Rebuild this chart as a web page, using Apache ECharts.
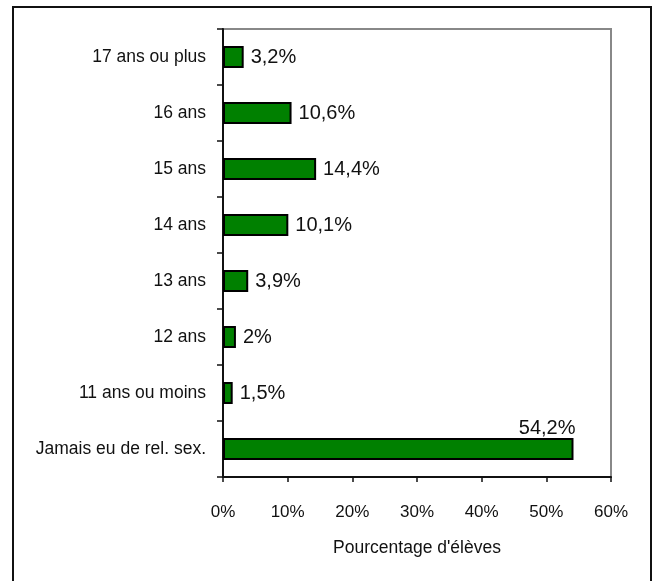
<!DOCTYPE html>
<html>
<head>
<meta charset="utf-8">
<script src="https://cdn.jsdelivr.net/npm/echarts@6/dist/echarts.min.js"></script>
<style>
html,body{margin:0;padding:0;background:#fff;}
#c{width:652px;height:581px;}
</style>
</head>
<body>
<div id="c"></div>
<script>
const categories = ["17 ans ou plus","16 ans","15 ans","14 ans","13 ans","12 ans","11 ans ou moins","Jamais eu de rel. sex."];
const values = [3.2, 10.6, 14.4, 10.1, 3.9, 2, 1.5, 54.2];
const xTicks = {min: 0, max: 60, interval: 10};
const axisTitle = "Pourcentage d'élèves";

const FONT = "'Liberation Sans', Arial, sans-serif";
const fmt = v => String(v).replace('.', ',') + '%';

const data = values.map((v, i) => {
  const d = {value: v};
  if (i === values.length - 1) {
    d.label = {position: 'right', align: 'right', verticalAlign: 'bottom', distance: 0, offset: [2, -11]};
  }
  return d;
});

const chart = echarts.init(document.getElementById('c'), null, {renderer: 'canvas'});
chart.setOption({
  animation: false,
  backgroundColor: '#fff',
  textStyle: {fontFamily: FONT},
  grid: {left: 223, top: 29, right: 41, bottom: 104, show: true, borderColor: '#888', borderWidth: 2, containLabel: false},
  xAxis: {
    type: 'value', min: xTicks.min, max: xTicks.max, interval: xTicks.interval,
    axisLine: {show: true, onZero: false, lineStyle: {color: '#111', width: 2}},
    axisTick: {show: true, length: 5, lineStyle: {color: '#111', width: 1.5}},
    splitLine: {show: false},
    axisLabel: {formatter: '{value}%', color: '#111', fontSize: 17, fontFamily: FONT, margin: 27},
    name: axisTitle, nameLocation: 'middle', nameGap: 62,
    nameTextStyle: {color: '#111', fontSize: 17.5, fontFamily: FONT}
  },
  yAxis: {
    type: 'category', data: categories, inverse: true,
    axisLine: {show: true, lineStyle: {color: '#111', width: 2}},
    axisTick: {show: true, length: 6, alignWithLabel: false, lineStyle: {color: '#111', width: 1.5}},
    axisLabel: {color: '#111', fontSize: 17.5, fontFamily: FONT, margin: 17}
  },
  series: [{
    type: 'bar', data: data, barWidth: 22,
    itemStyle: {color: '#008000', borderColor: '#000', borderWidth: 2},
    label: {show: true, position: 'right', distance: 7, color: '#111', fontSize: 20, fontFamily: FONT,
      formatter: p => fmt(p.value)}
  }],
  graphic: [{
    type: 'rect', silent: true,
    shape: {x: 13, y: 7, width: 638, height: 590},
    style: {fill: 'none', stroke: '#111', lineWidth: 2}
  }]
});
</script>
</body>
</html>
